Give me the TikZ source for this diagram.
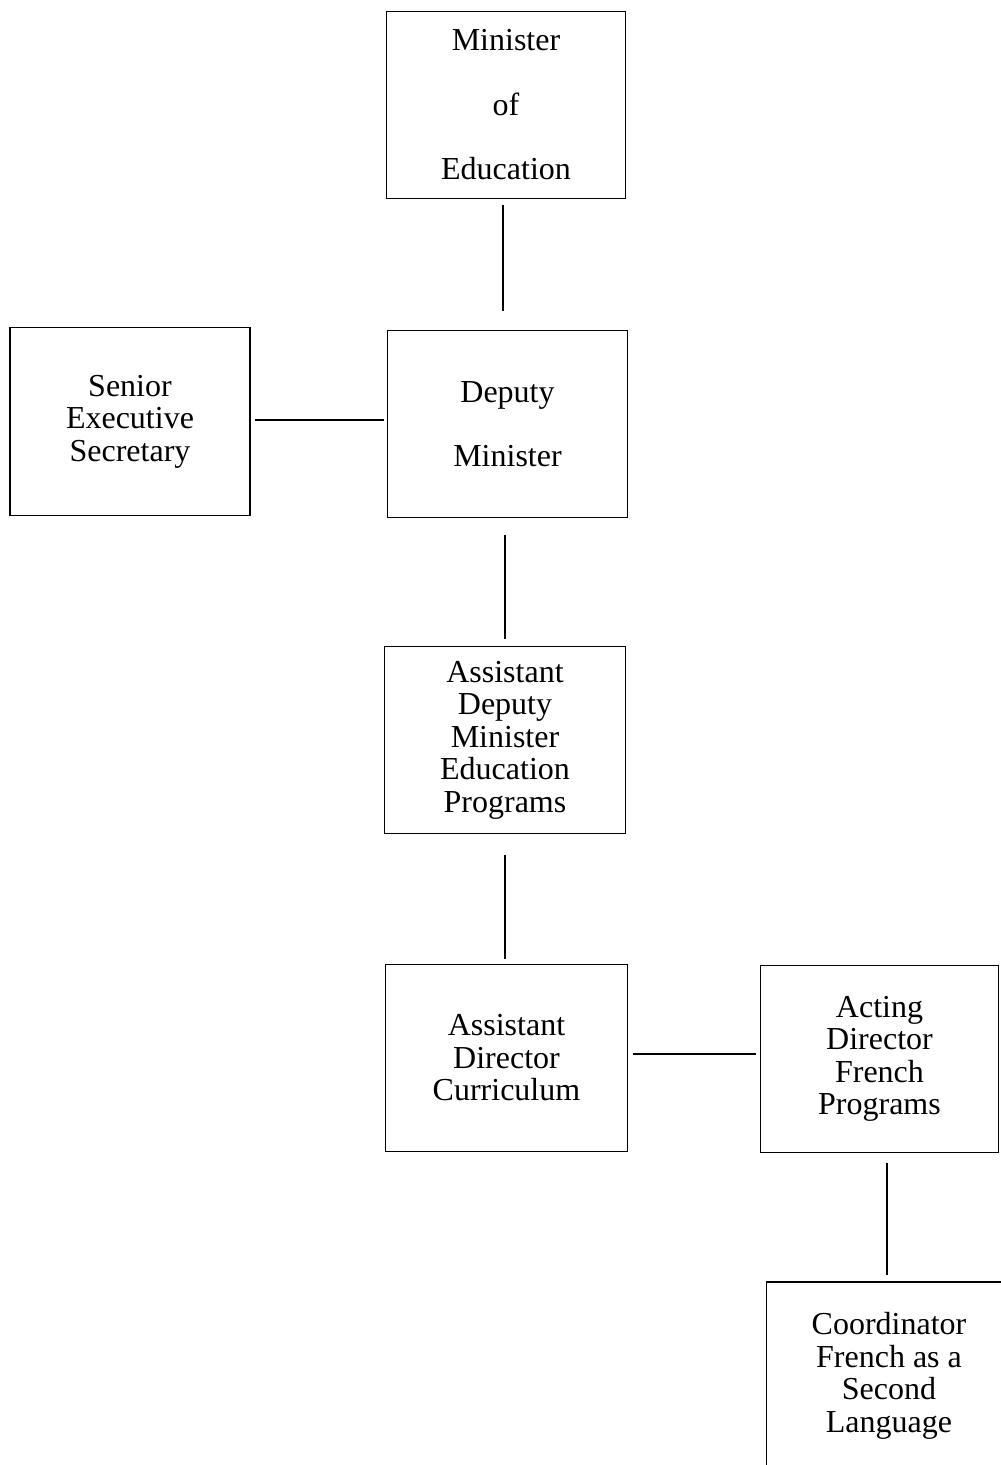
\documentclass[tikz,border=0pt]{standalone}
\usepackage{fontspec}
\setmainfont{Liberation Serif}
\begin{document}
\begin{tikzpicture}[x=1pt,y=-1pt,
  box/.style={draw=black, line width=1.6pt, inner sep=0pt, outer sep=0pt,
    align=center, font=\fontsize{32}{32.5}\selectfont},
  conn/.style={draw=black, line width=1.8pt}]
\clip (0,0) rectangle (1001,1465);
\useasboundingbox (0,0) rectangle (1001,1465);
\node[box, minimum width=239pt, minimum height=187pt] (min) at (506,105)
  {Minister\\[32pt]of\\[32pt]Education};
\node[box, minimum width=240pt, minimum height=188pt] (sen) at (130,421.5)
  {Senior\\Executive\\Secretary};
\node[box, minimum width=240pt, minimum height=187pt] (dep) at (507.5,424)
  {Deputy\\[32pt]Minister};
\node[box, minimum width=241pt, minimum height=187pt] (adm) at (505,740)
  {Assistant\\Deputy\\Minister\\Education\\Programs};
\node[box, minimum width=242pt, minimum height=187pt] (ad) at (506.5,1058)
  {Assistant\\Director\\Curriculum};
\node[box, minimum width=238pt, minimum height=187pt] (act) at (879.5,1059)
  {Acting\\Director\\French\\Programs};
\node[box, minimum width=245pt, minimum height=188pt] (coord) at (889,1376)
  {Coordinator\\French as a\\Second\\Language};
\draw[conn, shorten <=6pt, shorten >=20pt] ([xshift=-3pt]min.south) -- ([xshift=-3pt]min.south |- dep.north);
\draw[conn, shorten <=5pt, shorten >=4pt] ([yshift=1.5pt]sen.east) -- ([yshift=1.5pt]sen.east -| dep.west);
\draw[conn, shorten <=17pt, shorten >=8pt] ([xshift=-2.5pt]dep.south) -- ([xshift=-2.5pt]dep.south |- adm.north);
\draw[conn, shorten <=21pt, shorten >=6pt] (adm.south) -- (adm.south |- ad.north);
\draw[conn, shorten <=5pt, shorten >=5pt] ([yshift=4pt]ad.east) -- ([yshift=4pt]ad.east -| act.west);
\draw[conn, shorten <=10pt, shorten >=7pt] ([xshift=-2pt]coord.north |- act.south) -- ([xshift=-2pt]coord.north);
\end{tikzpicture}
\end{document}
